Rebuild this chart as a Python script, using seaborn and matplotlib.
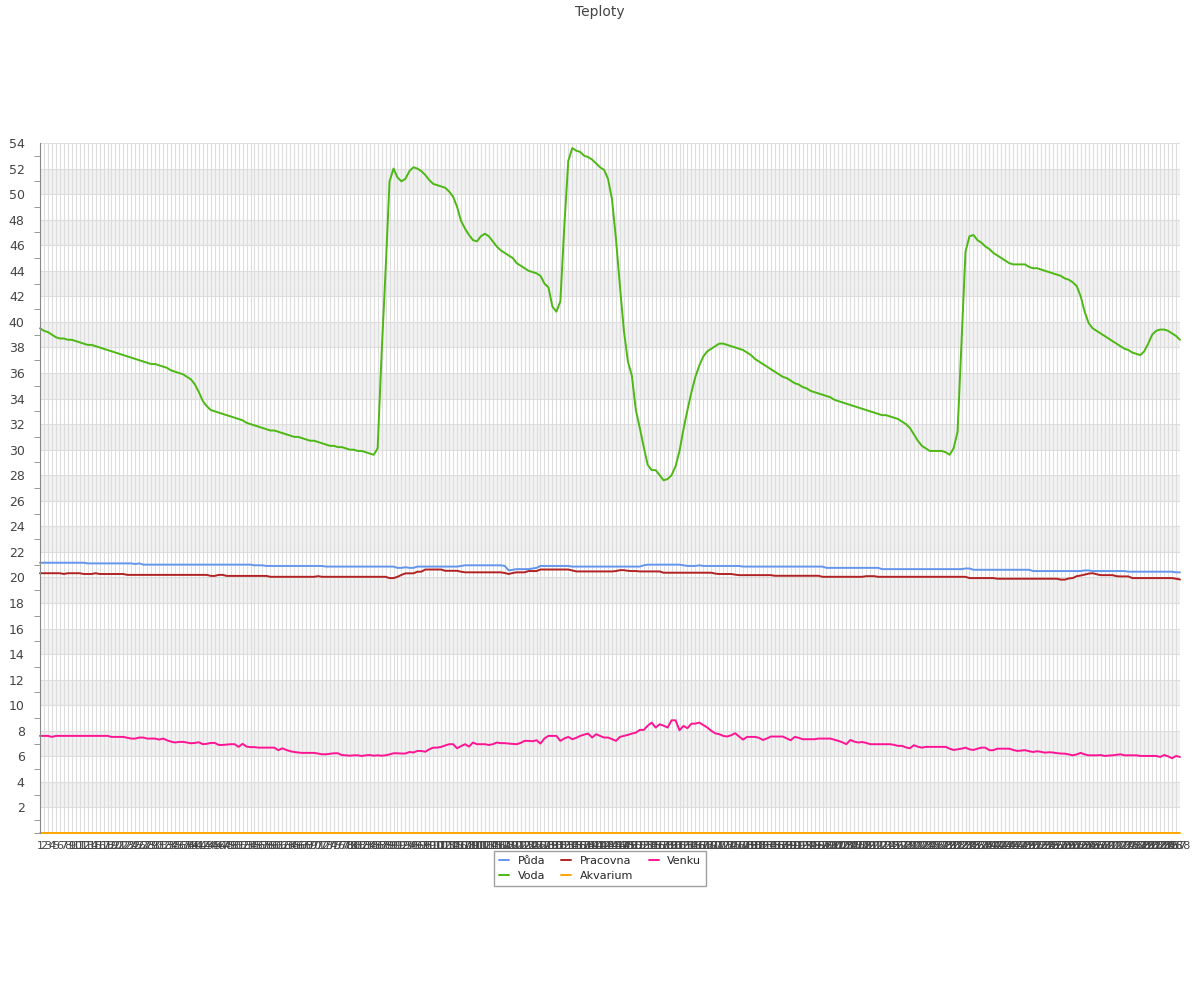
import pandas as pd
import matplotlib
matplotlib.use("Agg")
import matplotlib.pyplot as plt
from matplotlib.ticker import MultipleLocator, FixedLocator
import seaborn as sns

# measurement slots 1..288 (5 min steps over a day)
cas = list(range(1, 289))

puda = [
    21.15, 21.15, 21.15, 21.15, 21.15, 21.15, 21.15, 21.15, 21.15, 21.15,
    21.15, 21.15, 21.1, 21.1, 21.1, 21.1, 21.1, 21.1, 21.1, 21.1,
    21.1, 21.1, 21.1, 21.1, 21.05, 21.1, 21.0, 21.0, 21.0, 21.0,
    21.0, 21.0, 21.0, 21.0, 21.0, 21.0, 21.0, 21.0, 21.0, 21.0,
    21.0, 21.0, 21.0, 21.0, 21.0, 21.0, 21.0, 21.0, 21.0, 21.0,
    21.0, 21.0, 21.0, 21.0, 20.95, 20.95, 20.95, 20.9, 20.9, 20.9,
    20.9, 20.9, 20.9, 20.9, 20.9, 20.9, 20.9, 20.9, 20.9, 20.9,
    20.9, 20.9, 20.85, 20.85, 20.85, 20.85, 20.85, 20.85, 20.85, 20.85,
    20.85, 20.85, 20.85, 20.85, 20.85, 20.85, 20.85, 20.85, 20.85, 20.85,
    20.75, 20.75, 20.8, 20.75, 20.75, 20.85, 20.85, 20.85, 20.85, 20.85,
    20.85, 20.85, 20.85, 20.85, 20.85, 20.85, 20.9, 20.95, 20.95, 20.95,
    20.95, 20.95, 20.95, 20.95, 20.95, 20.95, 20.95, 20.9, 20.55, 20.6,
    20.65, 20.65, 20.65, 20.65, 20.7, 20.75, 20.9, 20.9, 20.9, 20.9,
    20.9, 20.9, 20.9, 20.9, 20.85, 20.85, 20.85, 20.85, 20.85, 20.85,
    20.85, 20.85, 20.85, 20.85, 20.85, 20.85, 20.85, 20.85, 20.85, 20.85,
    20.85, 20.85, 20.95, 21.0, 21.0, 21.0, 21.0, 21.0, 21.0, 21.0,
    21.0, 21.0, 20.95, 20.9, 20.9, 20.9, 20.95, 20.9, 20.9, 20.9,
    20.9, 20.9, 20.9, 20.9, 20.9, 20.9, 20.9, 20.85, 20.85, 20.85,
    20.85, 20.85, 20.85, 20.85, 20.85, 20.85, 20.85, 20.85, 20.85, 20.85,
    20.85, 20.85, 20.85, 20.85, 20.85, 20.85, 20.85, 20.85, 20.75, 20.75,
    20.75, 20.75, 20.75, 20.75, 20.75, 20.75, 20.75, 20.75, 20.75, 20.75,
    20.75, 20.75, 20.65, 20.65, 20.65, 20.65, 20.65, 20.65, 20.65, 20.65,
    20.65, 20.65, 20.65, 20.65, 20.65, 20.65, 20.65, 20.65, 20.65, 20.65,
    20.65, 20.65, 20.65, 20.7, 20.7, 20.6, 20.6, 20.6, 20.6, 20.6,
    20.6, 20.6, 20.6, 20.6, 20.6, 20.6, 20.6, 20.6, 20.6, 20.6,
    20.5, 20.5, 20.5, 20.5, 20.5, 20.5, 20.5, 20.5, 20.5, 20.5,
    20.5, 20.5, 20.5, 20.55, 20.55, 20.5, 20.5, 20.5, 20.5, 20.5,
    20.5, 20.5, 20.5, 20.5, 20.45, 20.45, 20.45, 20.45, 20.45, 20.45,
    20.45, 20.45, 20.45, 20.45, 20.45, 20.45, 20.4, 20.4,
]

pracovna = [
    20.33, 20.33, 20.33, 20.33, 20.33, 20.33, 20.27, 20.33, 20.33, 20.33,
    20.33, 20.27, 20.27, 20.27, 20.33, 20.27, 20.27, 20.27, 20.27, 20.27,
    20.27, 20.27, 20.2, 20.2, 20.2, 20.2, 20.2, 20.2, 20.2, 20.2,
    20.2, 20.2, 20.2, 20.2, 20.2, 20.2, 20.2, 20.2, 20.2, 20.2,
    20.2, 20.2, 20.2, 20.12, 20.12, 20.2, 20.2, 20.12, 20.12, 20.12,
    20.12, 20.12, 20.12, 20.12, 20.12, 20.12, 20.12, 20.12, 20.05, 20.05,
    20.05, 20.05, 20.05, 20.05, 20.05, 20.05, 20.05, 20.05, 20.05, 20.05,
    20.1, 20.05, 20.05, 20.05, 20.05, 20.05, 20.05, 20.05, 20.05, 20.05,
    20.05, 20.05, 20.05, 20.05, 20.05, 20.05, 20.05, 20.05, 19.95, 19.95,
    20.05, 20.2, 20.32, 20.32, 20.32, 20.45, 20.45, 20.62, 20.62, 20.62,
    20.62, 20.62, 20.52, 20.52, 20.52, 20.52, 20.45, 20.4, 20.4, 20.4,
    20.4, 20.4, 20.4, 20.4, 20.4, 20.4, 20.4, 20.35, 20.27, 20.35,
    20.4, 20.4, 20.4, 20.5, 20.5, 20.5, 20.62, 20.62, 20.62, 20.62,
    20.62, 20.62, 20.62, 20.62, 20.55, 20.47, 20.47, 20.47, 20.47, 20.47,
    20.47, 20.47, 20.47, 20.47, 20.47, 20.5, 20.57, 20.57, 20.52, 20.5,
    20.5, 20.47, 20.47, 20.47, 20.47, 20.47, 20.47, 20.37, 20.37, 20.37,
    20.37, 20.37, 20.37, 20.37, 20.37, 20.37, 20.37, 20.37, 20.37, 20.37,
    20.3, 20.27, 20.27, 20.27, 20.27, 20.22, 20.18, 20.18, 20.18, 20.18,
    20.18, 20.18, 20.18, 20.18, 20.18, 20.13, 20.13, 20.13, 20.13, 20.13,
    20.13, 20.13, 20.13, 20.13, 20.13, 20.13, 20.13, 20.05, 20.05, 20.05,
    20.05, 20.05, 20.05, 20.05, 20.05, 20.05, 20.05, 20.05, 20.1, 20.1,
    20.1, 20.05, 20.05, 20.05, 20.05, 20.05, 20.05, 20.05, 20.05, 20.05,
    20.05, 20.05, 20.05, 20.05, 20.05, 20.05, 20.05, 20.05, 20.05, 20.05,
    20.05, 20.05, 20.05, 20.05, 19.95, 19.95, 19.95, 19.95, 19.95, 19.95,
    19.95, 19.9, 19.9, 19.9, 19.9, 19.9, 19.9, 19.9, 19.9, 19.9,
    19.9, 19.9, 19.9, 19.9, 19.9, 19.9, 19.9, 19.83, 19.83, 19.92,
    19.95, 20.1, 20.15, 20.22, 20.3, 20.33, 20.25, 20.18, 20.18, 20.18,
    20.18, 20.1, 20.08, 20.08, 20.08, 19.95, 19.95, 19.95, 19.95, 19.95,
    19.95, 19.95, 19.95, 19.95, 19.95, 19.95, 19.9, 19.84,
]

venku = [
    7.6, 7.6, 7.6, 7.52, 7.6, 7.6, 7.6, 7.6, 7.6, 7.6,
    7.6, 7.6, 7.6, 7.6, 7.6, 7.6, 7.6, 7.6, 7.52, 7.52,
    7.52, 7.52, 7.45, 7.39, 7.39, 7.47, 7.47, 7.39, 7.39, 7.39,
    7.31, 7.39, 7.25, 7.15, 7.08, 7.13, 7.13, 7.08, 7.02, 7.05,
    7.1, 6.95, 6.98, 7.05, 7.05, 6.89, 6.89, 6.92, 6.95, 6.95,
    6.74, 6.98, 6.76, 6.72, 6.72, 6.68, 6.68, 6.68, 6.68, 6.68,
    6.48, 6.63, 6.5, 6.4, 6.34, 6.3, 6.27, 6.27, 6.27, 6.27,
    6.22, 6.16, 6.16, 6.2, 6.24, 6.24, 6.1, 6.08, 6.05, 6.08,
    6.08, 6.03, 6.08, 6.1, 6.05, 6.08, 6.05, 6.08, 6.15, 6.24,
    6.24, 6.22, 6.22, 6.34, 6.3, 6.42, 6.42, 6.36, 6.55, 6.68,
    6.68, 6.74, 6.85, 6.95, 6.95, 6.63, 6.8, 6.95, 6.76, 7.08,
    6.95, 6.95, 6.95, 6.89, 6.95, 7.08, 7.03, 7.03, 7.0, 6.97,
    6.95, 7.05, 7.21, 7.21, 7.18, 7.26, 7.0, 7.4, 7.6, 7.6,
    7.6, 7.21, 7.4, 7.52, 7.34, 7.45, 7.6, 7.7, 7.78, 7.47,
    7.73, 7.6, 7.47, 7.47, 7.35, 7.21, 7.52, 7.6, 7.68, 7.78,
    7.85, 8.07, 8.07, 8.4, 8.64, 8.25, 8.51, 8.4, 8.25, 8.82,
    8.82, 8.04, 8.38, 8.2, 8.56, 8.56, 8.64, 8.45, 8.25, 8.0,
    7.8, 7.73, 7.6, 7.55, 7.65, 7.81, 7.55, 7.31, 7.52, 7.52,
    7.52, 7.45, 7.28, 7.4, 7.55, 7.55, 7.55, 7.55, 7.4, 7.26,
    7.52, 7.45, 7.34, 7.34, 7.34, 7.34, 7.39, 7.39, 7.39, 7.39,
    7.3, 7.21, 7.1, 6.95, 7.28, 7.15, 7.08, 7.12, 7.05, 6.95,
    6.95, 6.95, 6.95, 6.95, 6.95, 6.9, 6.82, 6.82, 6.7, 6.63,
    6.87, 6.75, 6.68, 6.74, 6.74, 6.74, 6.74, 6.74, 6.74, 6.6,
    6.5, 6.55, 6.6, 6.68, 6.55, 6.5, 6.6, 6.68, 6.68, 6.48,
    6.48, 6.6, 6.6, 6.6, 6.6, 6.5, 6.42, 6.45, 6.48, 6.4,
    6.34, 6.4, 6.35, 6.29, 6.32, 6.3, 6.25, 6.22, 6.21, 6.15,
    6.08, 6.15, 6.27, 6.15, 6.08, 6.08, 6.08, 6.1, 6.03, 6.06,
    6.08, 6.12, 6.16, 6.08, 6.08, 6.08, 6.08, 6.03, 6.03, 6.03,
    6.03, 6.03, 5.95, 6.1, 6.0, 5.85, 6.03, 5.95,
]

voda = [
    39.5, 39.3, 39.2, 39.0, 38.8, 38.7, 38.7, 38.6, 38.6, 38.5,
    38.4, 38.3, 38.2, 38.2, 38.1, 38.0, 37.9, 37.8, 37.7, 37.6,
    37.5, 37.4, 37.3, 37.2, 37.1, 37.0, 36.9, 36.8, 36.7, 36.7,
    36.6, 36.5, 36.4, 36.2, 36.1, 36.0, 35.9, 35.7, 35.5, 35.1,
    34.5, 33.8, 33.4, 33.1, 33.0, 32.9, 32.8, 32.7, 32.6, 32.5,
    32.4, 32.3, 32.1, 32.0, 31.9, 31.8, 31.7, 31.6, 31.5, 31.5,
    31.4, 31.3, 31.2, 31.1, 31.0, 31.0, 30.9, 30.8, 30.7, 30.7,
    30.6, 30.5, 30.4, 30.3, 30.3, 30.2, 30.2, 30.1, 30.0, 30.0,
    29.9, 29.9, 29.8, 29.7, 29.6, 30.1, 37.5, 44.0, 51.0, 52.0,
    51.3, 51.0, 51.2, 51.8, 52.1, 52.0, 51.8, 51.5, 51.1, 50.8,
    50.7, 50.6, 50.5, 50.2, 49.8, 49.0, 47.9, 47.3, 46.8, 46.4,
    46.3, 46.7, 46.9, 46.7, 46.3, 45.9, 45.6, 45.4, 45.2, 45.0,
    44.6, 44.4, 44.2, 44.0, 43.9, 43.8, 43.6, 43.0, 42.7, 41.2,
    40.8, 41.6, 47.5, 52.6, 53.6, 53.4, 53.3, 53.0, 52.9, 52.7,
    52.4, 52.1, 51.9, 51.2, 49.6, 46.5, 42.8, 39.3, 36.9, 35.8,
    33.1, 31.7, 30.2, 28.8, 28.4, 28.4, 28.0, 27.6, 27.7, 28.0,
    28.7, 29.9, 31.6, 33.1, 34.5, 35.7, 36.6, 37.3, 37.7, 37.9,
    38.1, 38.3, 38.3, 38.2, 38.1, 38.0, 37.9, 37.8, 37.6, 37.4,
    37.1, 36.9, 36.7, 36.5, 36.3, 36.1, 35.9, 35.7, 35.6, 35.4,
    35.2, 35.1, 34.9, 34.8, 34.6, 34.5, 34.4, 34.3, 34.2, 34.1,
    33.9, 33.8, 33.7, 33.6, 33.5, 33.4, 33.3, 33.2, 33.1, 33.0,
    32.9, 32.8, 32.7, 32.7, 32.6, 32.5, 32.4, 32.2, 32.0, 31.7,
    31.2, 30.7, 30.3, 30.1, 29.9, 29.9, 29.9, 29.9, 29.8, 29.6,
    30.1, 31.4, 38.5, 45.5, 46.7, 46.8, 46.4, 46.2, 45.9, 45.7,
    45.4, 45.2, 45.0, 44.8, 44.6, 44.5, 44.5, 44.5, 44.5, 44.3,
    44.2, 44.2, 44.1, 44.0, 43.9, 43.8, 43.7, 43.6, 43.4, 43.3,
    43.1, 42.8, 42.0, 40.8, 39.9, 39.5, 39.3, 39.1, 38.9, 38.7,
    38.5, 38.3, 38.1, 37.9, 37.8, 37.6, 37.5, 37.4, 37.7, 38.3,
    39.0, 39.3, 39.4, 39.4, 39.3, 39.1, 38.9, 38.6,
]

akvarium = [
    0, 0, 0, 0, 0, 0, 0, 0, 0, 0, 0, 0, 0, 0, 0, 0, 0, 0, 0, 0,
    0, 0, 0, 0, 0, 0, 0, 0, 0, 0, 0, 0, 0, 0, 0, 0, 0, 0, 0, 0,
    0, 0, 0, 0, 0, 0, 0, 0, 0, 0, 0, 0, 0, 0, 0, 0, 0, 0, 0, 0,
    0, 0, 0, 0, 0, 0, 0, 0, 0, 0, 0, 0, 0, 0, 0, 0, 0, 0, 0, 0,
    0, 0, 0, 0, 0, 0, 0, 0, 0, 0, 0, 0, 0, 0, 0, 0, 0, 0, 0, 0,
    0, 0, 0, 0, 0, 0, 0, 0, 0, 0, 0, 0, 0, 0, 0, 0, 0, 0, 0, 0,
    0, 0, 0, 0, 0, 0, 0, 0, 0, 0, 0, 0, 0, 0, 0, 0, 0, 0, 0, 0,
    0, 0, 0, 0, 0, 0, 0, 0, 0, 0, 0, 0, 0, 0, 0, 0, 0, 0, 0, 0,
    0, 0, 0, 0, 0, 0, 0, 0, 0, 0, 0, 0, 0, 0, 0, 0, 0, 0, 0, 0,
    0, 0, 0, 0, 0, 0, 0, 0, 0, 0, 0, 0, 0, 0, 0, 0, 0, 0, 0, 0,
    0, 0, 0, 0, 0, 0, 0, 0, 0, 0, 0, 0, 0, 0, 0, 0, 0, 0, 0, 0,
    0, 0, 0, 0, 0, 0, 0, 0, 0, 0, 0, 0, 0, 0, 0, 0, 0, 0, 0, 0,
    0, 0, 0, 0, 0, 0, 0, 0, 0, 0, 0, 0, 0, 0, 0, 0, 0, 0, 0, 0,
    0, 0, 0, 0, 0, 0, 0, 0, 0, 0, 0, 0, 0, 0, 0, 0, 0, 0, 0, 0,
    0, 0, 0, 0, 0, 0, 0, 0,
]

series = {
    "Půda": puda,
    "Pracovna": pracovna,
    "Venku": venku,
    "Voda": voda,
    "Akvarium": akvarium,
}
colors = {
    "Půda": "#6495ED",
    "Pracovna": "#B22222",
    "Venku": "#FF1493",
    "Voda": "#4DB814",
    "Akvarium": "#FFA500",
}
legend_order = ["Půda", "Voda", "Pracovna", "Akvarium", "Venku"]

rows = []
for name, values in series.items():
    for i, v in enumerate(values):
        rows.append({"idx": i, "label": cas[i], "sensor": name, "temp": v})
df = pd.DataFrame(rows)

sns.set_style("white")
plt.rcParams["font.family"] = ["DejaVu Sans"]

fig = plt.figure(figsize=(12, 10), dpi=100)
ax = fig.add_axes([40 / 1200, 1 - 833 / 1000, 1140 / 1200, 690 / 1000])

# alternating horizontal bands
for low in range(2, 52, 4):
    ax.axhspan(low, low + 2, color="#f2f2f2", zorder=0, lw=0)

sns.lineplot(
    data=df, x="idx", y="temp", hue="sensor",
    hue_order=list(series.keys()), palette=colors,
    sort=False, linewidth=1.4, ax=ax, legend=True
)
for line in ax.get_lines():
    line.set_clip_on(False)

handles, labels = ax.get_legend_handles_labels()
ax.get_legend().remove()
lookup = dict(zip(labels, handles))
fig.legend(
    [lookup[n] for n in legend_order], legend_order,
    loc="upper center", bbox_to_anchor=(0.5, 0.1545), ncol=3,
    fontsize=8, frameon=True, fancybox=False, edgecolor="#888888",
    handlelength=0.9, handletextpad=0.8, columnspacing=1.4,
    labelspacing=0.45, borderpad=0.45
)

ax.set_xlim(0, len(cas) - 1)
ax.set_ylim(0, 54)

ax.xaxis.set_major_locator(FixedLocator(range(len(cas))))
ax.set_xticklabels([str(c) for c in cas], fontsize=8, color="#444444")
ax.tick_params(axis="x", length=0, pad=6)

ax.yaxis.set_major_locator(FixedLocator(range(2, 55, 2)))
ax.yaxis.set_minor_locator(MultipleLocator(1))
ax.set_yticklabels([str(v) for v in range(2, 55, 2)], fontsize=9, color="#444444")
ax.tick_params(axis="y", which="major", length=7, color="#888888", pad=4)
ax.tick_params(axis="y", which="minor", length=4, color="#888888", left=True)

ax.grid(True, axis="both", which="major", color="#dddddd", linewidth=0.8)
ax.set_axisbelow(True)

for side in ["top", "right", "bottom"]:
    ax.spines[side].set_visible(False)
ax.spines["left"].set_color("#888888")
ax.spines["left"].set_linewidth(0.8)

ax.set_xlabel("")
ax.set_ylabel("")

fig.text(0.5, 0.995, "Teploty", ha="center", va="top", fontsize=10, color="#444444")

fig.savefig("out.png", dpi=100)
